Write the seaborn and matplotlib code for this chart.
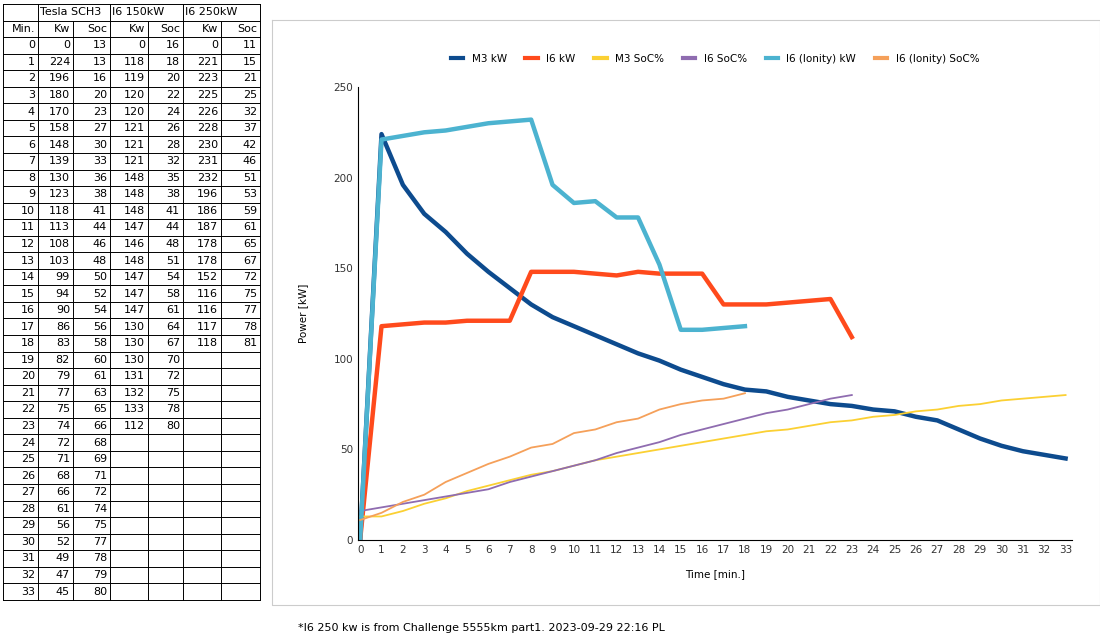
import matplotlib
matplotlib.use("Agg")
import matplotlib.pyplot as plt
import seaborn as sns
import pandas as pd

# Table / chart data
m3_kw = [0, 224, 196, 180, 170, 158, 148, 139, 130, 123, 118, 113, 108, 103, 99, 94, 90,
         86, 83, 82, 79, 77, 75, 74, 72, 71, 68, 66, 61, 56, 52, 49, 47, 45]
m3_soc = [13, 13, 16, 20, 23, 27, 30, 33, 36, 38, 41, 44, 46, 48, 50, 52, 54,
          56, 58, 60, 61, 63, 65, 66, 68, 69, 71, 72, 74, 75, 77, 78, 79, 80]
i6_kw = [0, 118, 119, 120, 120, 121, 121, 121, 148, 148, 148, 147, 146, 148, 147, 147,
         147, 130, 130, 130, 131, 132, 133, 112]
i6_soc = [16, 18, 20, 22, 24, 26, 28, 32, 35, 38, 41, 44, 48, 51, 54, 58, 61, 64, 67,
          70, 72, 75, 78, 80]
ion_kw = [0, 221, 223, 225, 226, 228, 230, 231, 232, 196, 186, 187, 178, 178, 152,
          116, 116, 117, 118]
ion_soc = [11, 15, 21, 25, 32, 37, 42, 46, 51, 53, 59, 61, 65, 67, 72, 75, 77, 78, 81]

series = [
    ("M3 kW", m3_kw, "#0d4b8e", 3.2),
    ("I6 kW", i6_kw, "#ff4a1c", 3.2),
    ("M3 SoC%", m3_soc, "#fbd033", 1.3),
    ("I6 SoC%", i6_soc, "#8f6cb0", 1.3),
    ("I6 (Ionity) kW", ion_kw, "#4cb3d0", 3.2),
    ("I6 (Ionity) SoC%", ion_soc, "#f5a05a", 1.3),
]

fig = plt.figure(figsize=(11, 6.43), dpi=100)
W, H = 1100, 643

def fx(x): return x / W
def fy(y): return 1 - y / H

# spreadsheet table on the left
col_edges = [3, 38, 73, 110, 148, 183, 221, 260]
row_h = 16.55
top = 4
n_rows = 36
tab = fig.add_axes([0, 0, 1, 1])
tab.set_xlim(0, W)
tab.set_ylim(H, 0)
tab.axis("off")
for r in range(n_rows + 1):
    y = top + r * row_h
    tab.plot([col_edges[0], col_edges[-1]], [y, y], color="black", lw=0.7)
for i, x in enumerate(col_edges):
    y0 = top if i in (0, 1, 3, 5, 7) else top + row_h
    tab.plot([x, x], [y0, top + n_rows * row_h], color="black", lw=0.7)
for x, t in [(40, "Tesla SCH3"), (112, "I6 150kW"), (185, "I6 250kW")]:
    tab.text(x, top + row_h / 2, t, fontsize=8, va="center", ha="left")
for i, t in enumerate(["Min.", "Kw", "Soc", "Kw", "Soc", "Kw", "Soc"]):
    tab.text(col_edges[i + 1] - 3, top + 1.5 * row_h, t, fontsize=8, va="center", ha="right")
cols = [list(range(34)), m3_kw, m3_soc, i6_kw, i6_soc, ion_kw, ion_soc]
for c, vals in enumerate(cols):
    for r, v in enumerate(vals):
        tab.text(col_edges[c + 1] - 3, top + (r + 2.5) * row_h, str(v), fontsize=8,
                 va="center", ha="right")
tab.plot([272, 1100, 1100, 272, 272], [20, 20, 605, 605, 20], color="#cccccc", lw=0.8)
tab.text(298, 628, "*I6 250 kw is from Challenge 5555km part1. 2023-09-29 22:16 PL",
         fontsize=8, va="center")

# chart
ax = fig.add_axes([fx(358), fy(540), fx(1072 - 358), (540 - 87) / H])
for name, vals, color, lw in series:
    df = pd.DataFrame({"min": range(len(vals)), "val": vals})
    sns.lineplot(data=df, x="min", y="val", ax=ax, color=color, lw=lw, label=name)
ax.set_xlim(-0.1, 33.3)
ax.set_ylim(0, 250)
ax.set_xticks(range(34))
ax.set_yticks([0, 50, 100, 150, 200, 250])
ax.tick_params(labelsize=7.5, length=0, colors="#333333")
ax.set_xlabel("Time [min.]", fontsize=7.5, labelpad=10)
ax.set_ylabel("Power [kW]", fontsize=7.5, labelpad=18)
for s in ["top", "right"]:
    ax.spines[s].set_visible(False)
ax.legend(loc="lower center", bbox_to_anchor=(0.5, 1.03), ncol=6, frameon=False,
          fontsize=7.5, handlelength=1.2, columnspacing=1.8)
for line in ax.get_legend().get_lines():
    line.set_linewidth(3)

fig.savefig("out.png", dpi=100)
